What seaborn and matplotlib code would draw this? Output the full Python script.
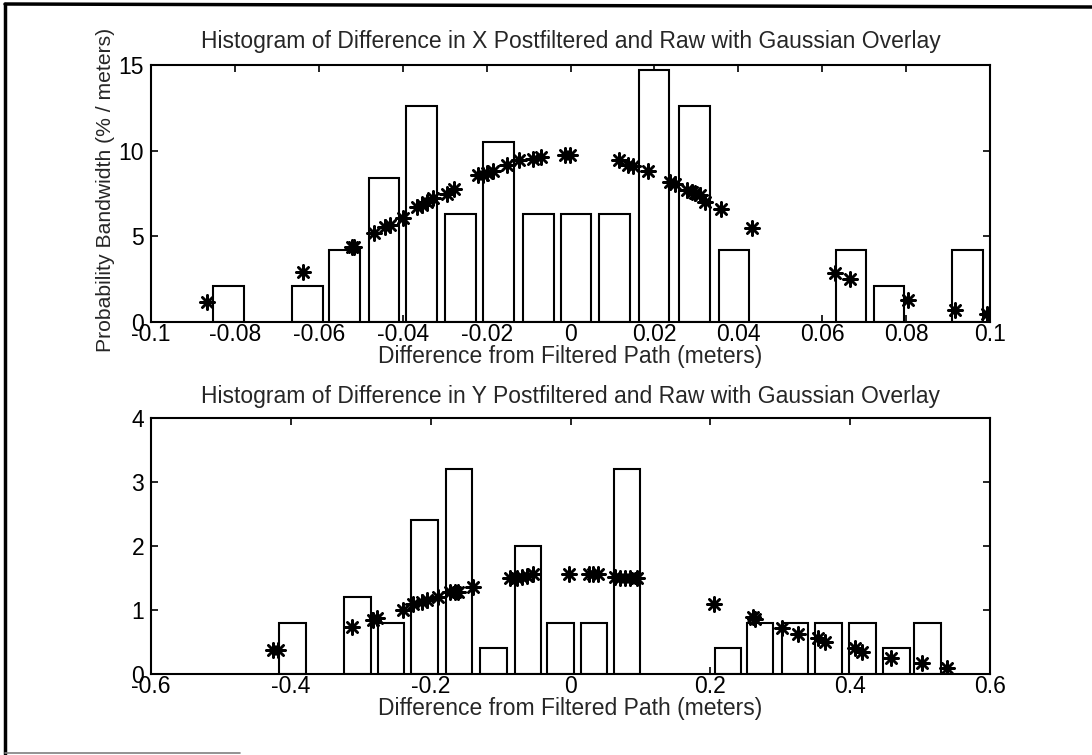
import matplotlib
matplotlib.use("Agg")
import matplotlib.pyplot as plt
import seaborn as sns
from matplotlib.lines import Line2D

# ---- X difference histogram (bins) ----
x_bin_centers = [-0.0816, -0.0627, -0.0539, -0.0445, -0.0355, -0.0262, -0.0171, -0.0077,
                 0.0013, 0.0105, 0.0199, 0.0295, 0.0390, 0.0669, 0.0759, 0.0946]
x_bin_heights = [2.1, 2.1, 4.2, 8.4, 12.6, 6.3, 10.5, 6.3,
                 6.3, 6.3, 14.7, 12.6, 4.2, 4.2, 2.1, 4.2]

# ---- X Gaussian overlay evaluated at samples ----
x_gauss_x = [-0.0867, -0.0638, -0.0521, -0.0515, -0.0468, -0.0442, -0.0430, -0.0400,
             -0.0367, -0.0355, -0.0343, -0.0328, -0.0295, -0.0278, -0.0220, -0.0208,
             -0.0200, -0.0184, -0.0152, -0.0122, -0.0089, -0.0070, -0.0013, -0.0001,
             0.0116, 0.0138, 0.0148, 0.0185, 0.0237, 0.0249, 0.0277, 0.0289,
             0.0297, 0.0309, 0.0321, 0.0359, 0.0433, 0.0630, 0.0666, 0.0805,
             0.0917, 0.0992]
x_gauss_y = [1.15, 2.94, 4.35, 4.40, 5.18, 5.56, 5.66, 6.05,
             6.73, 6.83, 7.02, 7.22, 7.47, 7.78, 8.58, 8.58,
             8.68, 8.83, 9.17, 9.46, 9.50, 9.61, 9.75, 9.75,
             9.46, 9.17, 9.10, 8.83, 8.19, 8.06, 7.71, 7.61,
             7.51, 7.41, 7.02, 6.58, 5.47, 2.84, 2.49, 1.28,
             0.70, 0.47]

# ---- Y difference histogram (bins) ----
y_bin_centers = [-0.3977, -0.3050, -0.2567, -0.2086, -0.1595, -0.1100, -0.0606, -0.0145,
                 0.0338, 0.0810, 0.2252, 0.2713, 0.3213, 0.3694, 0.4180, 0.4660, 0.5108]
y_bin_heights = [0.8, 1.2, 0.8, 2.4, 3.2, 0.4, 2.0, 0.8,
                 0.8, 3.2, 0.4, 0.8, 0.8, 0.8, 0.8, 0.4, 0.8]

# ---- Y Gaussian overlay evaluated at samples ----
y_gauss_x = [-0.4251, -0.4180, -0.3130, -0.2820, -0.2773, -0.2400, -0.2249, -0.2129,
             -0.2057, -0.1891, -0.1724, -0.1653, -0.1605, -0.1390, -0.0866, -0.0771,
             -0.0700, -0.0628, -0.0532, -0.0017, 0.0269, 0.0326, 0.0397, 0.0636,
             0.0708, 0.0780, 0.0851, 0.0946, 0.2057, 0.2614, 0.2640, 0.3020,
             0.3249, 0.3544, 0.3640, 0.4069, 0.4165, 0.4579, 0.5031, 0.5380]
y_gauss_y = [0.38, 0.38, 0.74, 0.84, 0.87, 1.00, 1.09, 1.13,
             1.15, 1.21, 1.28, 1.28, 1.28, 1.36, 1.50, 1.50,
             1.51, 1.53, 1.56, 1.57, 1.56, 1.56, 1.56, 1.52,
             1.50, 1.50, 1.50, 1.50, 1.10, 0.89, 0.86, 0.72,
             0.625, 0.56, 0.50, 0.40, 0.35, 0.255, 0.167, 0.09]

x_ticks = [-0.1, -0.08, -0.06, -0.04, -0.02, 0, 0.02, 0.04, 0.06, 0.08, 0.1]
x_tick_labels = ["-0.1", "-0.08", "-0.06", "-0.04", "-0.02", "0", "0.02", "0.04", "0.06", "0.08", "0.1"]
y_ticks = [-0.6, -0.4, -0.2, 0, 0.2, 0.4, 0.6]
y_tick_labels = ["-0.6", "-0.4", "-0.2", "0", "0.2", "0.4", "0.6"]

title_x = "Histogram of Difference in X Postfiltered and Raw with Gaussian Overlay"
title_y = "Histogram of Difference in Y Postfiltered and Raw with Gaussian Overlay"
xlabel = "Difference from Filtered Path (meters)"
ylabel = "Probability Bandwidth (% / meters)"

FS = 16.5

sns.set_theme(style="white")
plt.rcParams["font.family"] = ["Liberation Sans", "DejaVu Sans"]
plt.rcParams["axes.unicode_minus"] = False
plt.rcParams["font.size"] = FS

fig = plt.figure(figsize=(10.92, 7.55), dpi=100)
fig.patch.set_facecolor("white")

ax1 = fig.add_axes([0.1383, 0.5735, 0.7683, 0.3404])
ax2 = fig.add_axes([0.1383, 0.1073, 0.7683, 0.3391])

asterisk = (8, 2, 0)


def style_axes(ax):
    ax.set_facecolor("white")
    for sp in ax.spines.values():
        sp.set_visible(True)
        sp.set_color("black")
        sp.set_linewidth(1.5)
    ax.tick_params(direction="in", length=5, width=1.2, colors="black",
                   top=True, right=True, bottom=True, left=True,
                   labelsize=FS)
    ax.tick_params(axis="x", pad=1)
    ax.tick_params(axis="y", pad=5)
    ax.grid(False)


# top panel
ax1.bar(x_bin_centers, x_bin_heights, width=0.0073, facecolor="white",
        edgecolor="black", linewidth=1.5, zorder=2)
sns.scatterplot(x=x_gauss_x, y=x_gauss_y, ax=ax1, marker=asterisk, s=105,
                color="black", linewidth=1.8, edgecolor="black", zorder=3)
ax1.set_xlim(-0.1, 0.1)
ax1.set_ylim(0, 15)
ax1.set_xticks(x_ticks)
ax1.set_xticklabels(x_tick_labels)
ax1.set_yticks([0, 5, 10, 15])
ax1.set_yticklabels(["0", "5", "10", "15"])
ax1.set_title(title_x, fontsize=FS, pad=12)
ax1.set_xlabel(xlabel, fontsize=FS, labelpad=-1)
ax1.set_ylabel(ylabel, fontsize=15.2)
ax1.yaxis.set_label_coords(-0.043, 0.514)
style_axes(ax1)

# bottom panel
ax2.bar(y_bin_centers, y_bin_heights, width=0.038, facecolor="white",
        edgecolor="black", linewidth=1.5, zorder=2)
sns.scatterplot(x=y_gauss_x, y=y_gauss_y, ax=ax2, marker=asterisk, s=105,
                color="black", linewidth=1.8, edgecolor="black", zorder=3)
ax2.set_xlim(-0.6, 0.6)
ax2.set_ylim(0, 4)
ax2.set_xticks(y_ticks)
ax2.set_xticklabels(y_tick_labels)
ax2.set_yticks([0, 1, 2, 3, 4])
ax2.set_yticklabels(["0", "1", "2", "3", "4"])
ax2.set_title(title_y, fontsize=FS, pad=10.5)
ax2.set_xlabel(xlabel, fontsize=FS, labelpad=-1)
style_axes(ax2)

# page frame: left and top rules, short rule at the bottom
fig.add_artist(Line2D([5 / 1092, 5 / 1092], [1 - 4 / 755, 1 - 754 / 755],
                      transform=fig.transFigure, color="black", linewidth=2.5))
fig.add_artist(Line2D([5 / 1092, 1.0], [1 - 4 / 755, 1 - 7 / 755],
                      transform=fig.transFigure, color="black", linewidth=2.5))
fig.add_artist(Line2D([5 / 1092, 240 / 1092], [1 - 753 / 755, 1 - 753 / 755],
                      transform=fig.transFigure, color="gray", linewidth=1.2))

fig.savefig("out.png", dpi=100, facecolor="white")
